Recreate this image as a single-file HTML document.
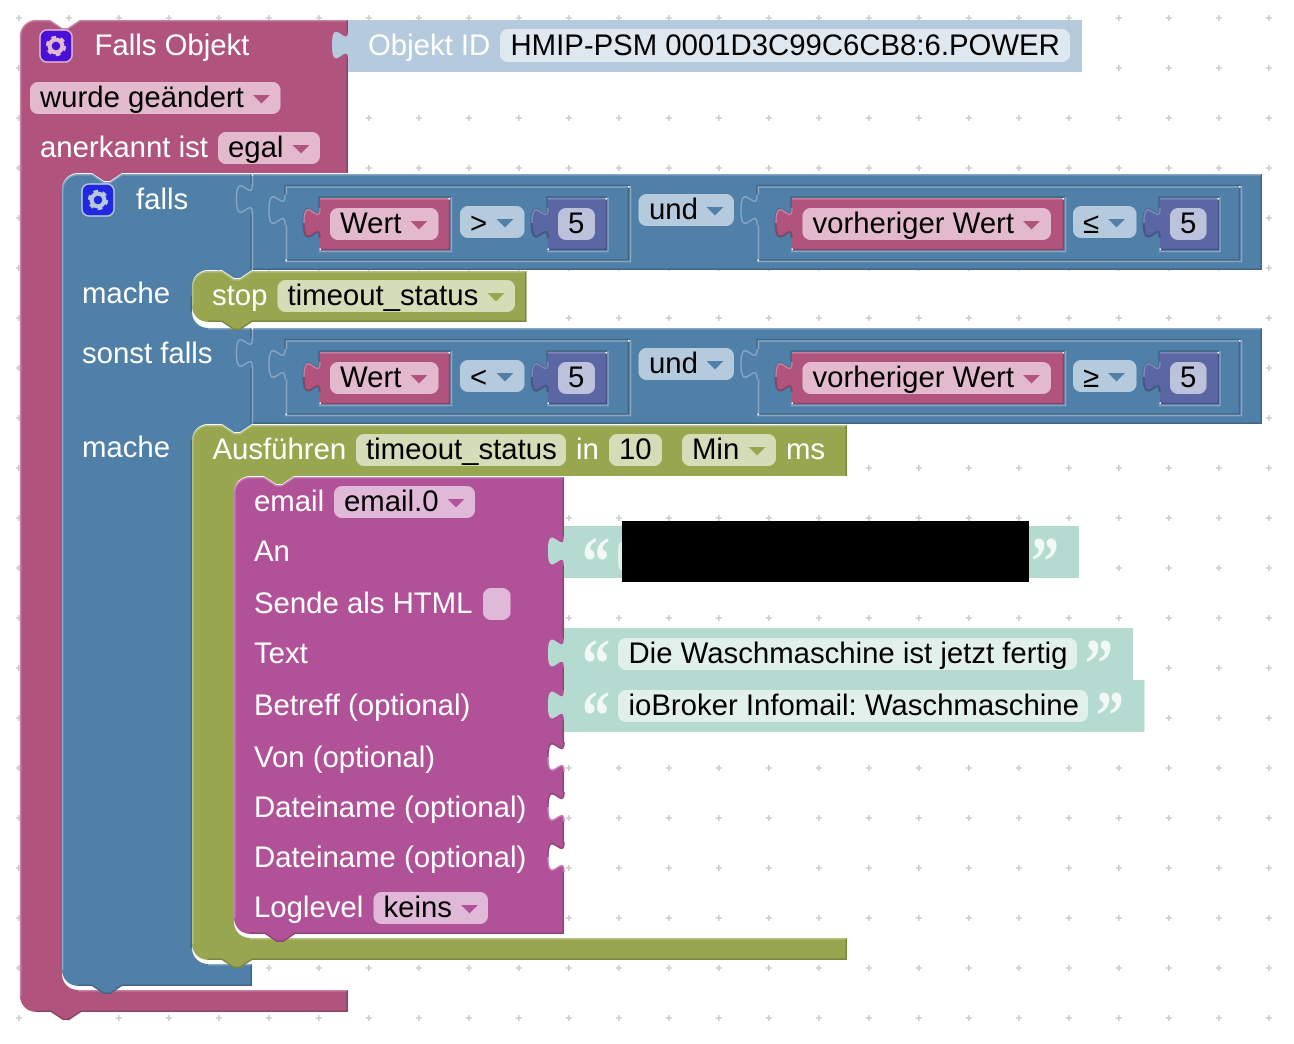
<!DOCTYPE html>
<html><head><meta charset="utf-8"><style>
html,body{margin:0;padding:0;background:#fff}
svg{display:block}
text{font-family:"Liberation Sans",sans-serif;font-size:29.33px;fill:#000}
text.w{fill:#fff}
text.q{font-family:"Liberation Serif",serif;font-weight:bold;font-size:56px;fill:#f1f8f6}
.ln{fill:none;stroke-width:1.5}
.bl{stroke:#86a6c4}.bd{stroke:#406686}
.pl{stroke:#c67fa2}.pd{stroke:#8d4364}
.ol{stroke:#b7c183}.od{stroke:#7a853f}
.el{stroke:#c67eb6}.ed{stroke:#8e427a}
.nl{stroke:#8088bb}.nd{stroke:#495284}
.pf{fill:#e3b9cd}.bf{fill:#b5cadd}.of{fill:#d5dcb8}.ef{fill:#e0b9d8}.nf{fill:#bcc1dc}.tf{fill:#e1f0eb}
.dot{fill:#fff}
</style></head><body>
<svg width="1294" height="1044" viewBox="0 0 1294 1044" xmlns="http://www.w3.org/2000/svg">
<defs>
<pattern id="grid" x="0" y="0" width="50" height="50" patternUnits="userSpaceOnUse">
<path d="M15.800,18H21.800M18.800,15V21" stroke="#ccc" stroke-width="1.600" fill="none"/>
</pattern>
<g id="rowshapes">
  <!-- vertical separator and falls tab -->
  <path class="ln bd" d="M251,174V184M251,214V270"/>
  <path class="ln bl" d="M252.500,174V184c0,20 -16,-16 -16,15M236.500,199c0,31 16,-5 16,15V270"/>
  <!-- container 1 -->
  <path class="ln bd" d="M285,195V185.500H630"/>
  <path class="ln bl" d="M286.500,195V187H628.500M285,195c0,20 -16,-16 -16,15c0,31 16,-5 16,15M286.500,225V259.500"/>
  <path class="ln bd" d="M286,260H628.500V187"/>
  <path class="ln bl" d="M285,261.500H630.500V186"/>
  <rect class="dot" x="628" y="186" width="1.600" height="1.600"/><rect class="dot" x="285.500" y="259.500" width="1.600" height="1.600"/>
  <!-- Wert block -->
  <path class="ln bd" d="M319,208V197H451"/>
  <path class="ln bl" d="M319,251.500H451.500V197"/>
  <path class="bd" style="fill:none;stroke-width:3" d="M320,208c0,20 -16,-16 -16,15c0,31 16,-5 16,15"/>
  <path fill="#b0547d" d="M320,198V208c0,20 -16,-16 -16,15c0,31 16,-5 16,15V250H450V198Z"/>
  <path class="ln pl" d="M320,198.700H449M320,208c0,20 -16,-16 -16,15"/>
  <path class="ln pd" d="M321,249.500H449.500V199M304,223c0,31 16,-5 16,15"/>
  <rect class="dot" x="448.500" y="198" width="1.600" height="1.600"/><rect class="dot" x="319.500" y="248.500" width="1.600" height="1.600"/>
  <rect class="pf" x="330" y="208" width="108.500" height="32" rx="8"/>
  <path fill="#b0547d" d="M410.500,221H427.500L419,229.500Z"/>
  <!-- op field -->
  <rect class="bf" x="460" y="206" width="64.500" height="32" rx="8"/>
  <path fill="#507fa8" d="M496.500,219H513.500L505,227.500Z"/>
  <!-- 5 block -->
  <path class="ln bd" d="M547,208V197H607.500"/>
  <path class="ln bl" d="M547,251.500H608V197"/>
  <path class="bd" style="fill:none;stroke-width:3" d="M548,208c0,20 -16,-16 -16,15c0,31 16,-5 16,15"/>
  <path fill="#5b67a5" d="M548,198V208c0,20 -16,-16 -16,15c0,31 16,-5 16,15V250H607V198Z"/>
  <path class="ln nl" d="M548,208c0,20 -16,-16 -16,15M548,198.700H606"/>
  <path class="ln nd" d="M549,249.500H606.500V199M532,223c0,31 16,-5 16,15"/>
  <rect class="dot" x="605.500" y="198" width="1.600" height="1.600"/><rect class="dot" x="547.500" y="248.500" width="1.600" height="1.600"/>
  <rect class="nf" x="558" y="208" width="37" height="32" rx="8"/>
  <!-- und field -->
  <rect class="bf" x="638.500" y="194" width="95.500" height="32" rx="8"/>
  <path fill="#507fa8" d="M706.500,207H723.500L715,215.500Z"/>
  <!-- container 2 -->
  <path class="ln bd" d="M757,195V185.500H1241"/>
  <path class="ln bl" d="M758.500,195V187H1239.500M757,195c0,20 -16,-16 -16,15c0,31 16,-5 16,15M758.500,225V259.500"/>
  <path class="ln bd" d="M758,260H1239.500V187"/>
  <path class="ln bl" d="M757,261.500H1241.500V186"/>
  <rect class="dot" x="1239" y="186" width="1.600" height="1.600"/><rect class="dot" x="757.500" y="259.500" width="1.600" height="1.600"/>
  <!-- vorheriger Wert block -->
  <path class="ln bd" d="M791,208V197H1065"/>
  <path class="ln bl" d="M791,251.500H1065.500V197"/>
  <path class="bd" style="fill:none;stroke-width:3" d="M792,208c0,20 -16,-16 -16,15c0,31 16,-5 16,15"/>
  <path fill="#b0547d" d="M792,198V208c0,20 -16,-16 -16,15c0,31 16,-5 16,15V250H1064V198Z"/>
  <path class="ln pl" d="M792,198.700H1063M792,208c0,20 -16,-16 -16,15"/>
  <path class="ln pd" d="M793,249.500H1063.500V199M776,223c0,31 16,-5 16,15"/>
  <rect class="dot" x="1062.500" y="198" width="1.600" height="1.600"/><rect class="dot" x="791.500" y="248.500" width="1.600" height="1.600"/>
  <rect class="pf" x="802.500" y="208" width="248.500" height="32" rx="8"/>
  <path fill="#b0547d" d="M1023,221H1040L1031.500,229.500Z"/>
  <!-- op field 2 -->
  <rect class="bf" x="1073" y="206" width="63.500" height="32" rx="8"/>
  <path fill="#507fa8" d="M1108,219H1125L1116.500,227.500Z"/>
  <!-- 5 block 2 -->
  <path class="ln bd" d="M1159,208V197H1219.500"/>
  <path class="ln bl" d="M1159,251.500H1220V197"/>
  <path class="bd" style="fill:none;stroke-width:3" d="M1160,208c0,20 -16,-16 -16,15c0,31 16,-5 16,15"/>
  <path fill="#5b67a5" d="M1160,198V208c0,20 -16,-16 -16,15c0,31 16,-5 16,15V250H1219V198Z"/>
  <path class="ln nl" d="M1160,208c0,20 -16,-16 -16,15M1160,198.700H1218"/>
  <path class="ln nd" d="M1161,249.500H1218.500V199M1144,223c0,31 16,-5 16,15"/>
  <rect class="dot" x="1217.500" y="198" width="1.600" height="1.600"/><rect class="dot" x="1159.500" y="248.500" width="1.600" height="1.600"/>
  <rect class="nf" x="1170" y="208" width="36.500" height="32" rx="8"/>
  <!-- row edges -->
  <path class="ln bl" d="M253,174.700H1261"/>
  <path class="ln bd" d="M1261.300,175V269.300H253"/>
  <rect class="dot" x="251.500" y="174" width="1.600" height="1.600"/>
</g>
</defs>
<rect width="1294" height="1044" fill="#fff"/>
<rect width="1294" height="1044" fill="url(#grid)"/>

<!-- Pink -->
<path fill="#b0547d" d="M20,36a16,16 0 0 1 16,-16H50l12,8 6,0 12,-8H348V173H122l-12,8 -6,0 -12,-8H78a16,16 0 0 0 -16,16V974a16,16 0 0 0 16,16H348V1012H81l-12,8 -6,0 -12,-8H36a16,16 0 0 1 -16,-16Z"/>
<path class="ln pl" d="M20.700,996V36a15.300,15.300 0 0 1 15.300,-15.300H50l12,8 6,0 12,-8H347M78,990.700H347"/>
<path class="ln pd" d="M347.300,21V173M347.300,991V1011.300H81l-12,8 -6,0 -12,-8H36"/>

<!-- Blue -->
<path fill="#507fa8" d="M62,190a16,16 0 0 1 16,-16H92l12,8 6,0 12,-8H1262V270H252l-12,8 -6,0 -12,-8H208a16,16 0 0 0 -16,16V312a16,16 0 0 0 16,16H1262V424H252l-12,8 -6,0 -12,-8H208a16,16 0 0 0 -16,16V948a16,16 0 0 0 16,16H252V986H122l-12,8 -6,0 -12,-8H78a16,16 0 0 1 -16,-16Z"/>
<path class="ln bl" d="M62.700,970V190a15.300,15.300 0 0 1 15.300,-15.300H92l12,8 6,0 12,-8H252M208,328.700H252M208,964.700H251"/>
<path class="ln bd" d="M191.300,296V312M191.300,440V948M251.300,965V985.300H122l-12,8 -6,0 -12,-8H78"/>
<use href="#rowshapes"/>
<use href="#rowshapes" y="154"/>

<!-- Stop -->
<path fill="#98a64f" d="M192,287a16,16 0 0 1 16,-16H222l12,8 6,0 12,-8H526.500V322H252l-12,8 -6,0 -12,-8H208a16,16 0 0 1 -16,-16Z"/>
<path class="ln ol" d="M192.700,306V287a15.300,15.300 0 0 1 15.300,-15.300H222l12,8 6,0 12,-8H525.500"/>
<path class="ln od" d="M525.800,272V321.300H252l-12,8 -6,0 -12,-8H208"/>
<rect class="of" x="277.500" y="280" width="237.500" height="32" rx="8"/>
<path fill="#98a64f" d="M487.500,293H504.500L496,301.500Z"/>

<!-- Ausfuehren -->
<path fill="#98a64f" d="M192,441a16,16 0 0 1 16,-16H222l12,8 6,0 12,-8H847V476H294l-12,8 -6,0 -12,-8H250a16,16 0 0 0 -16,16V922a16,16 0 0 0 16,16H847V960H252l-12,8 -6,0 -12,-8H208a16,16 0 0 1 -16,-16Z"/>
<path class="ln ol" d="M192.700,944V441a15.300,15.300 0 0 1 15.300,-15.300H222l12,8 6,0 12,-8H846M250,938.700H846"/>
<path class="ln od" d="M846.300,426V476M846.300,939V959.300H252l-12,8 -6,0 -12,-8H208"/>
<rect class="of" x="356" y="434" width="210" height="32" rx="8"/>
<rect class="of" x="609" y="434" width="53" height="32" rx="8"/>
<rect class="of" x="682" y="434" width="94" height="32" rx="8"/>
<path fill="#98a64f" d="M748.500,447H765.500L757,455.500Z"/>

<!-- Email -->
<path fill="#b15299" d="M234,493a16,16 0 0 1 16,-16H264l12,8 6,0 12,-8H564V536c0,20 -16,-16 -16,15c0,31 16,-5 16,15V638c0,20 -16,-16 -16,15c0,31 16,-5 16,15V690c0,20 -16,-16 -16,15c0,31 16,-5 16,15V742c0,20 -16,-16 -16,15c0,31 16,-5 16,15V792c0,20 -16,-16 -16,15c0,31 16,-5 16,15V842c0,20 -16,-16 -16,15c0,31 16,-5 16,15V934H295l-12,8 -6,0 -12,-8H250a16,16 0 0 1 -16,-16Z"/>
<path class="ln el" d="M234.700,918V493a15.300,15.300 0 0 1 15.300,-15.300H264l12,8 6,0 12,-8H563M548,757c0,31 16,-5 16,15M548,807c0,31 16,-5 16,15M548,857c0,31 16,-5 16,15"/>
<path class="ln ed" d="M563.300,478V536M563.300,566V638M563.300,668V690M563.300,720V742M563.300,772V792M563.300,822V842M563.300,872V933.300H295l-12,8 -6,0 -12,-8H250M564,742c0,20 -16,-16 -16,15M564,792c0,20 -16,-16 -16,15M564,842c0,20 -16,-16 -16,15"/>
<rect class="ef" x="334" y="486" width="141" height="32" rx="8"/>
<path fill="#b15299" d="M447.500,499H464.500L456,507.500Z"/>
<rect class="ef" x="483" y="588" width="27.500" height="32" rx="8"/>
<rect class="ef" x="373.500" y="892" width="114.500" height="32" rx="8"/>
<path fill="#b15299" d="M461,905H478L469.500,913.500Z"/>

<!-- Teal -->
<path fill="#b5dbd0" d="M564,526V536c0,20 -16,-16 -16,15c0,31 16,-5 16,15V578H1079V526Z"/>
<path fill="#b5dbd0" d="M564,628V638c0,20 -16,-16 -16,15c0,31 16,-5 16,15V690c0,20 -16,-16 -16,15c0,31 16,-5 16,15V732H1144.500V680H1133V628Z"/>
<rect class="tf" x="618" y="540" width="60" height="32" rx="8"/>
<rect class="tf" x="618" y="638" width="459" height="32" rx="8"/>
<rect class="tf" x="618" y="690" width="470" height="32" rx="8"/>

<!-- Objekt -->
<path fill="#b5cadd" d="M348,20V30c0,20 -16,-16 -16,15c0,31 16,-5 16,15V72H1082V20Z"/>
<rect fill="#dfe8ef" x="500" y="29" width="570" height="33" rx="8"/>

<!-- Gears -->
<rect x="40" y="30" width="32" height="32" rx="7" fill="#4a10d8" stroke="#e3b9cd" stroke-width="1.500"/>
<circle cx="56" cy="46" r="6.300" fill="none" stroke="#e3b9cd" stroke-width="4.200"/>
<circle cx="56" cy="46" r="8.700" fill="none" stroke="#e3b9cd" stroke-width="3" stroke-dasharray="4.600 4.500" transform="rotate(-120 56 46)"/>
<rect x="82" y="184" width="32" height="32" rx="7" fill="#2228e0" stroke="#b5cadd" stroke-width="1.500"/>
<circle cx="98" cy="200" r="6.300" fill="none" stroke="#b5cadd" stroke-width="4.200"/>
<circle cx="98" cy="200" r="8.700" fill="none" stroke="#b5cadd" stroke-width="3" stroke-dasharray="4.600 4.500" transform="rotate(-120 98 200)"/>

<!-- Text pink -->
<text class="w" x="94.500" y="55">Falls Objekt</text>
<rect class="pf" x="30" y="82" width="250.500" height="32" rx="8"/>
<path fill="#b0547d" d="M253,95H270L261.500,103.500Z"/>
<text x="40" y="107">wurde geändert</text>
<text class="w" x="40" y="157">anerkannt ist</text>
<rect class="pf" x="218" y="132" width="102" height="32" rx="8"/>
<path fill="#b0547d" d="M292.500,145H309.500L301,153.500Z"/>
<text x="228" y="157">egal</text>
<text class="w" x="368" y="55">Objekt ID</text>
<text x="510.500" y="55">HMIP-PSM 0001D3C99C6CB8:6.POWER</text>

<!-- Text blue -->
<text class="w" x="136" y="209">falls</text>
<text class="w" x="82" y="303">mache</text>
<text class="w" x="82" y="363">sonst falls</text>
<text class="w" x="82" y="457">mache</text>

<text x="340" y="233">Wert</text>
<text x="470" y="233">&gt;</text>
<text x="568" y="233">5</text>
<text x="649" y="219">und</text>
<text x="812.500" y="233">vorheriger Wert</text>
<text x="1083" y="233">≤</text>
<text x="1180" y="233">5</text>

<text x="340" y="387">Wert</text>
<text x="470" y="387">&lt;</text>
<text x="568" y="387">5</text>
<text x="649" y="373">und</text>
<text x="812.500" y="387">vorheriger Wert</text>
<text x="1083" y="387">≥</text>
<text x="1180" y="387">5</text>

<!-- Text olive -->
<text class="w" x="212" y="305">stop</text>
<text x="287.500" y="305">timeout_status</text>
<text class="w" x="212.500" y="459">Ausführen</text>
<text x="366" y="459">timeout_status</text>
<text class="w" x="576" y="459">in</text>
<text x="619" y="459">10</text>
<text x="692" y="459">Min</text>
<text class="w" x="786" y="459">ms</text>

<!-- Text email -->
<text class="w" x="254" y="511">email</text>
<text x="344" y="511">email.0</text>
<text class="w" x="254" y="561">An</text>
<text class="w" x="254" y="613">Sende als HTML</text>
<text class="w" x="254" y="663">Text</text>
<text class="w" x="254" y="715">Betreff (optional)</text>
<text class="w" x="254" y="767">Von (optional)</text>
<text class="w" x="254" y="817">Dateiname (optional)</text>
<text class="w" x="254" y="867">Dateiname (optional)</text>
<text class="w" x="254" y="917">Loglevel</text>
<text x="383.500" y="917">keins</text>

<!-- Text teal -->
<text x="628.500" y="663">Die Waschmaschine ist jetzt fertig</text>
<text x="628.500" y="715">ioBroker Infomail: Waschmaschine</text>

<!-- Quotes -->
<text class="q" transform="translate(582 585) scale(1 1.25)">“</text>
<text class="q" transform="translate(1031 585) scale(1 1.25)">”</text>
<text class="q" transform="translate(582 687) scale(1 1.25)">“</text>
<text class="q" transform="translate(1085 687) scale(1 1.25)">”</text>
<text class="q" transform="translate(582 739) scale(1 1.25)">“</text>
<text class="q" transform="translate(1096 739) scale(1 1.25)">”</text>

<!-- Redaction -->
<rect x="622" y="521" width="407" height="61" fill="#000"/>
</svg>
</body></html>
